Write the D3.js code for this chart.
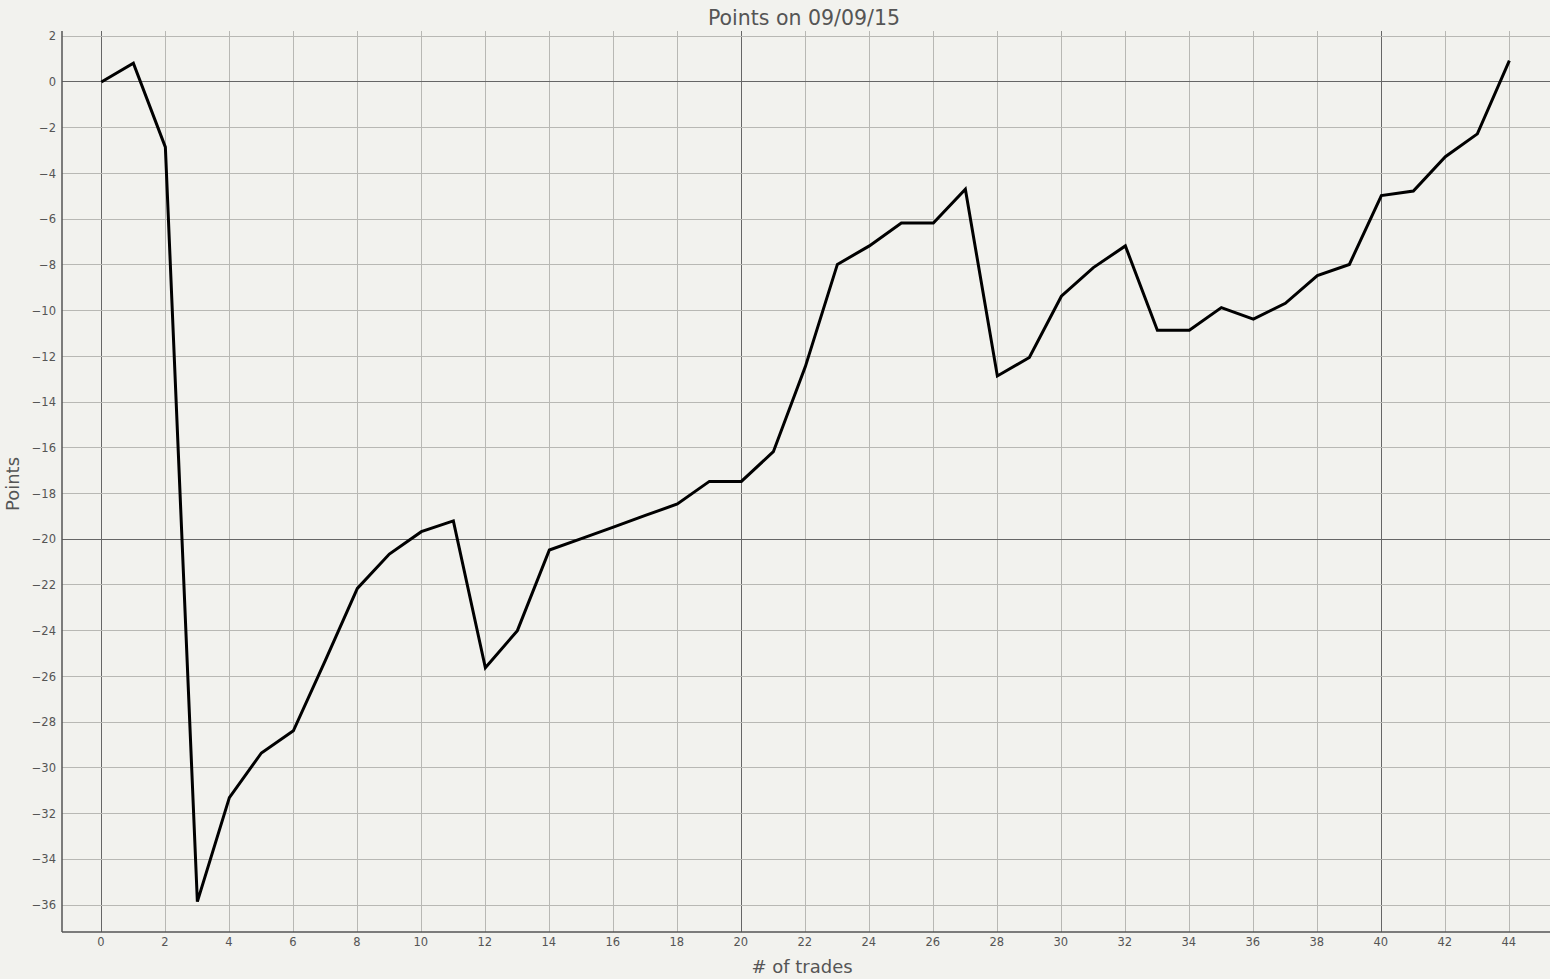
<!DOCTYPE html>
<html>
<head>
<meta charset="utf-8">
<script src="https://cdn.jsdelivr.net/npm/d3@7"></script>
<style>
  html, body { margin: 0; padding: 0; background: #f2f2ee; }
  svg { display: block; }
  text { font-family: "DejaVu Sans", sans-serif; fill: #555; }
</style>
</head>
<body>
<script>
const trades = d3.range(0, 45);
const points = [0, 0.82, -2.85, -35.85, -31.3, -29.35, -28.38, -25.3, -22.15, -20.65,
  -19.67, -19.2, -25.62, -24.0, -20.47, -19.97, -19.47, -18.96, -18.46, -17.47,
  -17.47, -16.17, -12.45, -7.98, -7.17, -6.17, -6.17, -4.69, -12.86, -12.05,
  -9.37, -8.12, -7.17, -10.86, -10.86, -9.87, -10.37, -9.68, -8.47, -7.98,
  -4.97, -4.77, -3.27, -2.27, 0.93];
const xTicks = d3.range(0, 45, 2);
const yTicks = d3.range(2, -37, -2);
const xMajor = [0, 20, 40];
const yMajor = [0, -20];
const title = "Points on 09/09/15";
const xLabel = "# of trades";
const yLabel = "Points";

const W = 1550, H = 979;
const L = 62, T = 31, R = 1550, B = 932;

const svg = d3.select("body").append("svg").attr("width", W).attr("height", H);
svg.append("rect").attr("width", W).attr("height", H).attr("fill", "#f2f2ee");

const x = d3.scaleLinear().domain([-1.23, 45.27]).range([L, R]);
const y = d3.scaleLinear().domain([-37.18, 2.23]).range([B, T]);

const grid = svg.append("g");
grid.selectAll("line.vx").data(xTicks).join("line")
  .attr("x1", d => x(d)).attr("x2", d => x(d)).attr("y1", T).attr("y2", B)
  .attr("stroke", d => xMajor.includes(d) ? "#666" : "#b8b8b4")
  .attr("stroke-width", 1).attr("shape-rendering", "crispEdges");
grid.selectAll("line.hy").data(yTicks).join("line")
  .attr("x1", L).attr("x2", R).attr("y1", d => y(d)).attr("y2", d => y(d))
  .attr("stroke", d => yMajor.includes(d) ? "#666" : "#b8b8b4")
  .attr("stroke-width", 1).attr("shape-rendering", "crispEdges");

// axes
const xAxis = d3.axisBottom(x).tickValues(xTicks).tickSize(0).tickPadding(6);
const yAxis = d3.axisLeft(y).tickValues(yTicks).tickSize(0).tickPadding(6);
const gx = svg.append("g").attr("transform", `translate(0,${B})`).call(xAxis);
const gy = svg.append("g").attr("transform", `translate(${L},0)`).call(yAxis);
[gx, gy].forEach(g => {
  g.select(".domain").attr("stroke", "#555").attr("stroke-width", 1.5);
  g.selectAll("text").attr("font-family", "DejaVu Sans").attr("font-size", 11.5).attr("fill", "#666");
});
gx.select(".domain").attr("d", `M${L},0H${R}`);
gy.select(".domain").attr("d", `M0,${T}V${B}`);
gx.selectAll("text").attr("dx", -1);

// line
const line = d3.line().x((d, i) => x(trades[i])).y(d => y(d));
svg.append("path").datum(points)
  .attr("d", line).attr("fill", "none").attr("stroke", "#000")
  .attr("stroke-width", 3).attr("stroke-linejoin", "miter");

svg.append("text").attr("x", 804).attr("y", 25).attr("text-anchor", "middle")
  .attr("font-size", 20.5).text(title);
svg.append("text").attr("x", 802).attr("y", 973).attr("text-anchor", "middle")
  .attr("font-size", 18).text(xLabel);
svg.append("text").attr("transform", "translate(19,484) rotate(-90)").attr("text-anchor", "middle")
  .attr("font-size", 18).text(yLabel);
</script>
</body>
</html>
